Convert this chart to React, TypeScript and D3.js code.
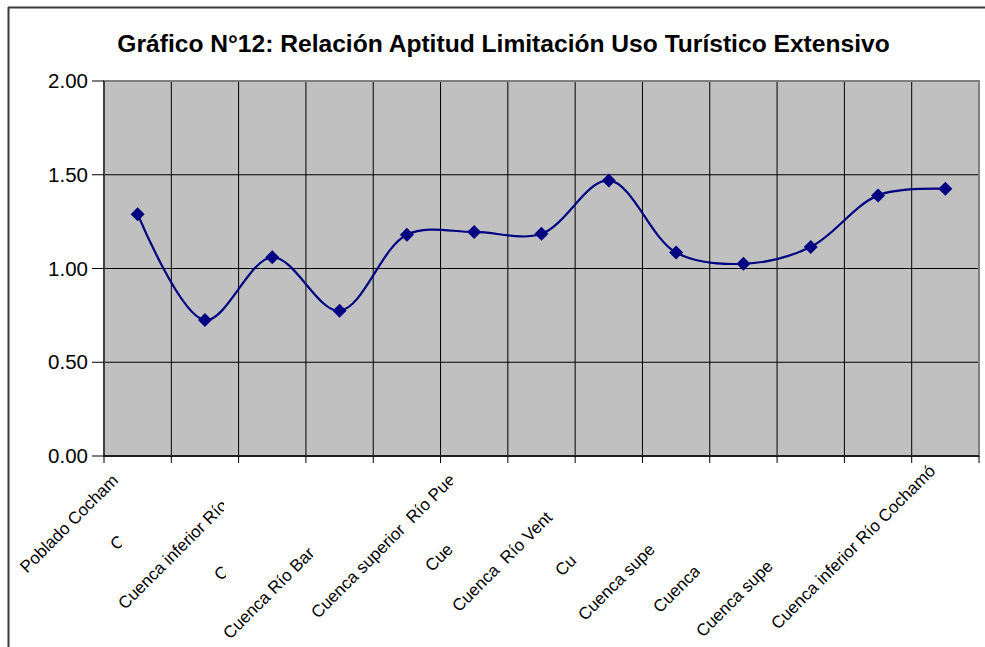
import React from "react";
import * as d3 from "d3";

// ---- data ----
const categories = [
  "Poblado Cocham",
  "C",
  "Cuenca inferior Río",
  "C",
  "Cuenca Río Bar",
  "Cuenca superior  Río Pue",
  "Cue",
  "Cuenca  Río Vent",
  "Cu",
  "Cuenca supe",
  "Cuenca",
  "Cuenca supe",
  "Cuenca inferior Río Cochamó",
];
const values = [1.29, 0.725, 1.06, 0.775, 1.18, 1.195, 1.185, 1.47, 1.085, 1.025, 1.115, 1.39, 1.425];
const yTicks = [0, 0.5, 1.0, 1.5, 2.0];
const title = "Gráfico N°12: Relación Aptitud Limitación Uso Turístico Extensivo";

// ---- layout (label placement, reproduces clipped labels) ----
const labelStartX = [27, 117, 125, 221, 230, 318, 432, 459, 562, 585, 660, 703, 778];
const labelClipX = [118, 122, 224, 226, 313, 453, 453, 556, 580, 655, 700, 775, 985];

const W = 985;
const H = 647;
const plot = { left: 104, right: 979, top: 81, bottom: 456 };
const FONT = "'Liberation Sans', Arial, sans-serif";

export default function App() {
  const idx = categories.map((_, i) => i);
  const x = d3.scaleBand<number>().domain(idx).range([plot.left, plot.right]).padding(0);
  const y = d3.scaleLinear().domain([0, 2]).range([plot.bottom, plot.top]);
  const cx = (i: number) => (x(i) as number) + x.bandwidth() / 2;

  const line = d3
    .line<number>()
    .x((_, i) => cx(i))
    .y((d) => y(d))
    .curve(d3.curveCatmullRom.alpha(0.5));

  const boundaries = d3.range(categories.length + 1).map((i) => plot.left + i * x.bandwidth());

  return (
    <svg
      width={W}
      height={H}
      style={{ position: "absolute", left: 0, top: 0, background: "#fff" }}
      fontFamily={FONT}
    >
      <defs>
        {categories.map((_, i) => (
          <clipPath id={`lc${i}`} key={i}>
            <rect x={0} y={plot.bottom + 8} width={labelClipX[i]} height={H} />
          </clipPath>
        ))}
      </defs>
      <rect x={0} y={0} width={W} height={H} fill="#fff" />
      {/* chart border */}
      <line x1={8.5} y1={7} x2={8.5} y2={H} stroke="#3a3a3a" strokeWidth={2} />
      <line x1={8} y1={7.5} x2={W} y2={7.5} stroke="#3a3a3a" strokeWidth={2} />

      <text x={503.5} y={52} textAnchor="middle" fontSize={24.6} fontWeight="bold" fill="#000">
        {title}
      </text>

      {/* plot area */}
      <rect
        x={plot.left}
        y={plot.top}
        width={plot.right - plot.left}
        height={plot.bottom - plot.top}
        fill="#c0c0c0"
      />
      {/* vertical gridlines */}
      {boundaries.slice(1, -1).map((bx, i) => (
        <line key={"v" + i} x1={bx} x2={bx} y1={plot.top} y2={plot.bottom} stroke="#000" strokeWidth={1} />
      ))}
      {/* horizontal gridlines */}
      {yTicks.slice(1).map((t) => (
        <line key={"h" + t} x1={plot.left} x2={plot.right} y1={y(t)} y2={y(t)} stroke="#000" strokeWidth={1} />
      ))}
      {/* plot border */}
      <rect
        x={plot.left}
        y={plot.top}
        width={plot.right - plot.left}
        height={plot.bottom - plot.top}
        fill="none"
        stroke="#808080"
        strokeWidth={2}
      />
      {/* axes */}
      <line x1={plot.left} x2={plot.left} y1={plot.top} y2={plot.bottom} stroke="#000" strokeWidth={1} />
      <line x1={plot.left} x2={plot.right} y1={plot.bottom} y2={plot.bottom} stroke="#000" strokeWidth={1.5} />
      {yTicks.map((t) => (
        <g key={"yt" + t}>
          <line x1={plot.left - 12} x2={plot.left} y1={y(t)} y2={y(t)} stroke="#000" strokeWidth={1} />
          <text x={88} y={y(t) + 7} textAnchor="end" fontSize={20.5} fill="#000">
            {t.toFixed(2)}
          </text>
        </g>
      ))}
      {boundaries.map((bx, i) => (
        <line key={"xt" + i} x1={bx} x2={bx} y1={plot.bottom} y2={plot.bottom + 7} stroke="#000" strokeWidth={1} />
      ))}

      {/* series */}
      <path d={line(values) || ""} fill="none" stroke="#000080" strokeWidth={2.2} />
      {values.map((v, i) => {
        const px = cx(i);
        const py = y(v);
        const r = 7;
        return (
          <path
            key={"m" + i}
            d={`M${px},${py - r}L${px + r},${py}L${px},${py + r}L${px - r},${py}Z`}
            fill="#000080"
          />
        );
      })}

      {/* category labels */}
      {categories.map((c, i) => {
        const C = cx(i) + 463;
        const sx = labelStartX[i];
        const sy = C - sx;
        return (
          <g key={"l" + i} clipPath={`url(#lc${i})`}>
            <text
              transform={`translate(${sx},${sy}) rotate(-45)`}
              textAnchor="start"
              fontSize={17}
              fill="#000"
              style={{ whiteSpace: "pre" }}
            >
              {c}
            </text>
          </g>
        );
      })}
    </svg>
  );
}
